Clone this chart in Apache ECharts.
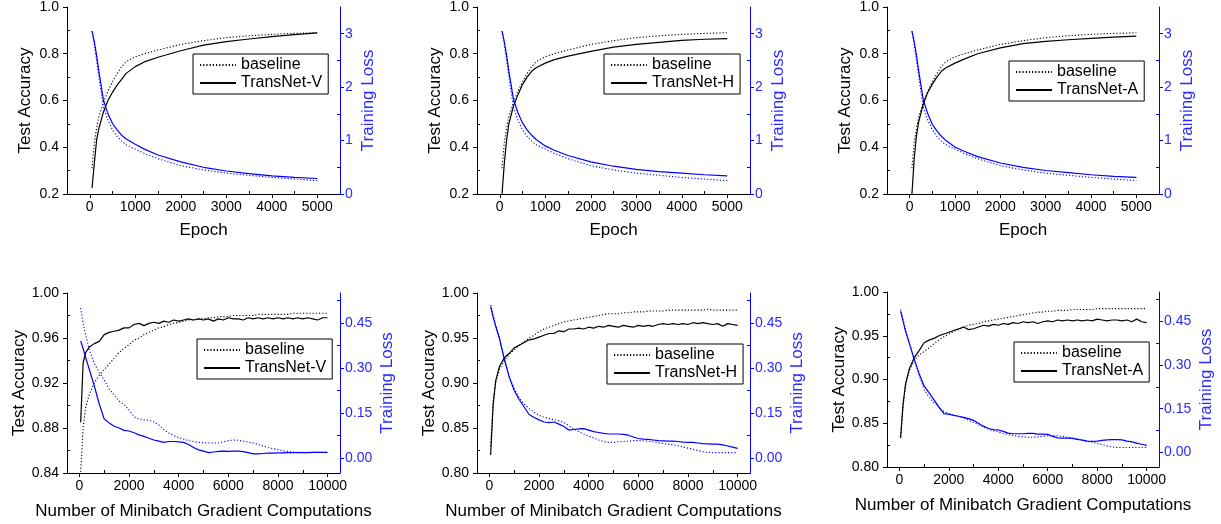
<!DOCTYPE html>
<html><head><meta charset="utf-8">
<script src="https://cdn.jsdelivr.net/npm/echarts@6/dist/echarts.min.js"></script>
<style>html,body{margin:0;padding:0;background:#fff}#c{width:1221px;height:524px}</style>
</head><body><div id="c"></div><script>
// ---------- data ----------
const epochX = [50,100,150,200,300,400,500,600,700,800,1000,1200,1500,2000,2500,3000,3500,4000,4500,5000];
const accBaseTop  = [0.31,0.42,0.48,0.53,0.59,0.64,0.68,0.715,0.745,0.766,0.787,0.80,0.816,0.84,0.856,0.869,0.877,0.883,0.887,0.89];
const lossBaseTop = [3.05,2.8,2.5,2.2,1.63,1.38,1.2,1.08,0.99,0.92,0.84,0.76,0.66,0.53,0.45,0.39,0.35,0.31,0.28,0.25];
const accVTop  = [0.225,0.33,0.43,0.48,0.55,0.60,0.635,0.666,0.69,0.716,0.745,0.765,0.785,0.813,0.837,0.852,0.863,0.873,0.882,0.889];
const lossVTop = [3.05,2.85,2.6,2.3,1.76,1.5,1.32,1.2,1.1,1.03,0.93,0.84,0.73,0.6,0.5,0.43,0.38,0.34,0.31,0.29];
const accHTop  = [0.2,0.33,0.43,0.5,0.575,0.625,0.668,0.7,0.725,0.74,0.76,0.775,0.79,0.81,0.828,0.84,0.849,0.857,0.862,0.865];
const lossHTop = [3.05,2.85,2.6,2.3,1.78,1.52,1.33,1.2,1.1,1.02,0.9,0.82,0.72,0.6,0.52,0.46,0.42,0.39,0.36,0.34];
const accATop  = [0.2,0.35,0.45,0.51,0.585,0.635,0.67,0.70,0.725,0.74,0.76,0.777,0.80,0.825,0.843,0.853,0.86,0.866,0.871,0.875];
const lossATop = [3.05,2.85,2.6,2.3,1.76,1.5,1.3,1.18,1.08,1.0,0.88,0.8,0.7,0.58,0.5,0.44,0.4,0.36,0.33,0.31];

const batchX = [50,150,250,400,600,800,1000,1200,1400,1600,1800,2000,2200,2400,2600,2800,3000,3200,3400,3600,3800,4000,4200,4400,4600,4800,5000,5200,5400,5600,5800,6000,6200,6400,6600,6800,7000,7200,7400,7600,7800,8000,8200,8400,8600,8800,9000,9200,9400,9600,9800,10000];
const accBaseV = [0.841,0.88,0.898,0.91,0.92,0.927,0.932,0.937,0.942,0.947,
 0.951,0.954,0.958,0.96,0.963,0.965,0.967,0.969,0.97,0.972,
 0.973,0.974,0.975,0.976,0.976,0.977,0.977,0.978,0.978,0.979,
 0.979,0.979,0.98,0.98,0.98,0.98,0.98,0.981,0.981,0.981,
 0.981,0.981,0.981,0.981,0.982,0.982,0.982,0.982,0.982,0.982,0.982,0.982];
const accV = [0.885,0.938,0.947,0.952,0.955,0.957,0.963,0.965,0.966,0.967,
 0.969,0.969,0.972,0.973,0.971,0.973,0.974,0.973,0.975,0.974,
 0.976,0.975,0.976,0.977,0.976,0.977,0.976,0.977,0.975,0.977,
 0.976,0.978,0.977,0.977,0.976,0.978,0.977,0.978,0.977,0.978,
 0.977,0.978,0.977,0.978,0.977,0.978,0.977,0.978,0.977,0.976,0.978,0.978];
const lossBaseV = [0.50,0.45,0.41,0.36,0.315,0.285,0.26,0.23,0.21,0.19,
 0.178,0.16,0.138,0.13,0.127,0.126,0.12,0.11,0.095,0.083,
 0.075,0.068,0.063,0.058,0.055,0.052,0.051,0.05,0.05,0.05,
 0.054,0.058,0.06,0.059,0.056,0.053,0.05,0.045,0.04,0.035,
 0.031,0.028,0.024,0.022,0.02,0.019,0.019,0.019,0.019,0.019,0.019,0.019];
const lossV = [0.39,0.365,0.335,0.295,0.24,0.18,0.13,0.117,0.106,0.1,
 0.092,0.09,0.084,0.077,0.072,0.066,0.06,0.056,0.052,0.055,
 0.055,0.054,0.052,0.045,0.035,0.027,0.023,0.018,0.02,0.022,
 0.023,0.022,0.023,0.023,0.021,0.018,0.014,0.014,0.015,0.016,
 0.016,0.017,0.017,0.018,0.018,0.018,0.018,0.018,0.019,0.019,0.019,0.019];
const accBaseH = [0.83,0.88,0.9,0.915,0.925,0.932,0.937,0.942,0.946,0.95,
 0.953,0.957,0.96,0.962,0.964,0.966,0.968,0.969,0.97,0.971,
 0.972,0.973,0.974,0.975,0.976,0.977,0.977,0.977,0.978,0.978,
 0.979,0.979,0.979,0.98,0.98,0.98,0.98,0.981,0.981,0.981,
 0.981,0.981,0.981,0.981,0.981,0.982,0.981,0.981,0.981,0.981,0.981,0.981];
const accH = [0.82,0.875,0.902,0.918,0.928,0.933,0.939,0.942,0.945,0.948,
 0.949,0.951,0.953,0.955,0.955,0.958,0.957,0.96,0.96,0.961,
 0.96,0.962,0.961,0.963,0.962,0.964,0.963,0.962,0.964,0.963,
 0.962,0.964,0.963,0.964,0.963,0.965,0.966,0.965,0.966,0.965,
 0.966,0.965,0.967,0.966,0.967,0.966,0.965,0.966,0.963,0.966,0.965,0.964];
const lossBaseH = [0.51,0.475,0.445,0.40,0.33,0.27,0.232,0.2,0.18,0.165,
 0.152,0.142,0.136,0.132,0.127,0.124,0.118,0.108,0.097,0.088,
 0.08,0.073,0.067,0.06,0.055,0.052,0.052,0.054,0.055,0.056,
 0.058,0.058,0.057,0.056,0.054,0.051,0.048,0.046,0.044,0.041,
 0.037,0.033,0.029,0.025,0.021,0.019,0.018,0.018,0.018,0.018,0.018,0.018];
const lossH = [0.505,0.47,0.44,0.40,0.33,0.27,0.225,0.195,0.17,0.145,
 0.135,0.127,0.12,0.118,0.12,0.113,0.105,0.093,0.095,0.097,
 0.098,0.093,0.088,0.085,0.082,0.08,0.08,0.08,0.079,0.076,
 0.07,0.065,0.063,0.062,0.06,0.058,0.057,0.056,0.056,0.055,
 0.053,0.052,0.052,0.05,0.048,0.047,0.046,0.046,0.044,0.04,0.036,0.032];
const accBaseA = [0.835,0.87,0.892,0.91,0.922,0.928,0.932,0.936,0.941,0.945,
 0.949,0.952,0.955,0.957,0.96,0.962,0.963,0.964,0.966,0.967,
 0.968,0.969,0.97,0.971,0.972,0.973,0.974,0.975,0.976,0.977,
 0.977,0.978,0.978,0.979,0.979,0.979,0.98,0.98,0.98,0.98,
 0.98,0.981,0.981,0.981,0.981,0.981,0.981,0.981,0.981,0.981,0.981,0.981];
const accA = [0.833,0.872,0.895,0.912,0.925,0.933,0.942,0.945,0.947,0.95,
 0.952,0.954,0.956,0.958,0.96,0.957,0.958,0.96,0.962,0.961,
 0.963,0.962,0.964,0.963,0.965,0.964,0.966,0.965,0.966,0.964,
 0.966,0.967,0.966,0.968,0.967,0.968,0.967,0.968,0.967,0.968,
 0.967,0.969,0.968,0.967,0.968,0.968,0.967,0.968,0.966,0.969,0.966,0.965];
const lossBaseA = [0.49,0.455,0.42,0.375,0.318,0.265,0.215,0.19,0.17,0.155,
 0.14,0.133,0.128,0.123,0.118,0.11,0.103,0.095,0.087,0.08,
 0.074,0.07,0.065,0.061,0.058,0.055,0.053,0.052,0.052,0.053,
 0.055,0.057,0.058,0.057,0.055,0.052,0.049,0.046,0.042,0.038,
 0.035,0.031,0.027,0.022,0.019,0.017,0.017,0.017,0.017,0.017,0.017,0.017];
const lossA = [0.484,0.45,0.415,0.375,0.32,0.27,0.228,0.205,0.18,0.155,
 0.133,0.131,0.127,0.124,0.12,0.116,0.11,0.1,0.09,0.082,
 0.078,0.077,0.072,0.066,0.064,0.064,0.064,0.065,0.065,0.063,
 0.063,0.062,0.055,0.05,0.049,0.049,0.048,0.045,0.042,0.039,
 0.038,0.039,0.041,0.043,0.044,0.044,0.043,0.039,0.036,0.032,0.028,0.024];

// tick labels
const epochTicks = [0,1000,2000,3000,4000,5000];
const epochMinor = [500,1500,2500,3500,4500];
const batchTicks = [0,2000,4000,6000,8000,10000];
const batchMinor = [1000,3000,5000,7000,9000];
const accTopTicks = [0.2,0.4,0.6,0.8,1.0];
const accTopMinor = [0.3,0.5,0.7,0.9];
const accBotTicksV = [0.84,0.88,0.92,0.96,1.00];
const accBotMinorV = [0.86,0.90,0.94,0.98];
const accBotTicks = [0.80,0.85,0.90,0.95,1.00];
const accBotMinor = [0.825,0.875,0.925,0.975];
const lossTopTicks = [0,1,2,3];
const lossTopMinor = [0.5,1.5,2.5];
const lossBotTicks = [0,0.15,0.30,0.45];
const lossBotMinor = [0.075,0.225,0.375,0.525];
const methodNames = ['TransNet-V','TransNet-H','TransNet-A'];

// ---------- chart ----------
const FONT = '"Liberation Sans", Arial, sans-serif';
const BLUE = '#0000ff';
const BLUE_TXT = '#2a2aff';
const pairs = (xs, ys) => xs.map((x, i) => [x, ys[i]]);

const topCfg = {xr:[-500,5500], xl:epochTicks, xm:epochMinor, xName:'Epoch', xGap:28,
  y:[0.2,1.0], yl:accTopTicks, ym:accTopMinor, yd:1, r:[0,3.5], rl:lossTopTicks, rm:lossTopMinor, rd:0, rGap:20, x:epochX};
const botCfg = {xr:[-500,10500], xl:batchTicks, xm:batchMinor, xName:'Number of Minibatch Gradient Computations', xGap:30,
  r:[-0.05,0.55], rl:lossBotTicks, rm:lossBotMinor, rd:2, rGap:39, x:batchX};

const panels = [
  Object.assign({}, topCfg, {grid:{left:67,top:7,width:273,height:187}, name:methodNames[0], accB:accBaseTop, accT:accVTop, lossB:lossBaseTop, lossT:lossVTop, leg:{left:193,top:54}}),
  Object.assign({}, topCfg, {grid:{left:477,top:7,width:273,height:187}, name:methodNames[1], accB:accBaseTop, accT:accHTop, lossB:lossBaseTop, lossT:lossHTop, leg:{left:604,top:54}}),
  Object.assign({}, topCfg, {grid:{left:887,top:7,width:272,height:187}, name:methodNames[2], accB:accBaseTop, accT:accATop, lossB:lossBaseTop, lossT:lossATop, leg:{left:1009,top:61}}),
  Object.assign({}, botCfg, {grid:{left:67,top:293,width:273,height:180}, y:[0.84,1.0], yl:accBotTicksV, ym:accBotMinorV, yd:2, name:methodNames[0], accB:accBaseV, accT:accV, lossB:lossBaseV, lossT:lossV, leg:{left:197,top:339}}),
  Object.assign({}, botCfg, {grid:{left:477,top:293,width:273,height:180}, y:[0.80,1.0], yl:accBotTicks, ym:accBotMinor, yd:2, name:methodNames[1], accB:accBaseH, accT:accH, lossB:lossBaseH, lossT:lossH, leg:{left:607,top:344}}),
  Object.assign({}, botCfg, {grid:{left:887,top:292,width:272,height:175}, y:[0.80,1.0], yl:accBotTicks, ym:accBotMinor, yd:2, name:methodNames[2], accB:accBaseA, accT:accA, lossB:lossBaseA, lossT:lossA, leg:{left:1014,top:342}})
];

const option = {animation:false, backgroundColor:'#fff', textStyle:{fontFamily:FONT},
  grid:[], xAxis:[], yAxis:[], legend:[], series:[]};

const hidden = {axisLabel:{show:false}, splitLine:{show:false}, axisLine:{show:false, onZero:false}};

panels.forEach((p, i) => {
  option.grid.push(Object.assign({containLabel:false}, p.grid));
  const xi = option.xAxis.length;
  option.xAxis.push({type:'value', gridIndex:i, min:p.xr[0], max:p.xr[1], position:'bottom',
    name:p.xName, nameLocation:'middle', nameGap:p.xGap,
    nameTextStyle:{fontSize:17, color:'#000', fontFamily:FONT},
    axisLine:{show:true, onZero:false, lineStyle:{color:'#000', width:1}},
    axisTick:{show:true, inside:false, length:4, customValues:p.xl, lineStyle:{color:'#000'}},
    axisLabel:{show:true, customValues:p.xl, fontSize:14, color:'#000', margin:6, fontFamily:FONT,
      formatter:(v) => String(Math.round(v))},
    splitLine:{show:false}});
  option.xAxis.push(Object.assign({type:'value', gridIndex:i, min:p.xr[0], max:p.xr[1], position:'bottom',
    axisTick:{show:true, inside:true, length:3, customValues:p.xm, lineStyle:{color:'#000'}}}, hidden));

  const yi = option.yAxis.length;
  option.yAxis.push({type:'value', gridIndex:i, min:p.y[0], max:p.y[1], position:'left',
    name:'Test Accuracy', nameLocation:'middle', nameGap:33,
    nameTextStyle:{fontSize:17, color:'#000', fontFamily:FONT},
    axisLine:{show:true, onZero:false, lineStyle:{color:'#000', width:1}},
    axisTick:{show:true, inside:false, length:4, customValues:p.yl, lineStyle:{color:'#000'}},
    axisLabel:{show:true, customValues:p.yl, fontSize:14, color:'#000', margin:8, fontFamily:FONT,
      formatter:(v) => Number(v).toFixed(p.yd)},
    splitLine:{show:false}});
  option.yAxis.push(Object.assign({type:'value', gridIndex:i, min:p.y[0], max:p.y[1], position:'left',
    axisTick:{show:true, inside:true, length:3, customValues:p.ym, lineStyle:{color:'#000'}}}, hidden));
  const ri = option.yAxis.length;
  option.yAxis.push({type:'value', gridIndex:i, min:p.r[0], max:p.r[1], position:'right',
    name:'Training Loss', nameLocation:'middle', nameGap:p.rGap,
    nameTextStyle:{fontSize:17, color:BLUE_TXT, fontFamily:FONT},
    axisLine:{show:true, onZero:false, lineStyle:{color:BLUE, width:1}},
    axisTick:{show:true, inside:false, length:4, customValues:p.rl, lineStyle:{color:BLUE}},
    axisLabel:{show:true, customValues:p.rl, fontSize:14, color:BLUE_TXT, margin:5, fontFamily:FONT,
      formatter:(v) => Number(v).toFixed(p.rd)},
    splitLine:{show:false}});
  option.yAxis.push(Object.assign({type:'value', gridIndex:i, min:p.r[0], max:p.r[1], position:'right',
    axisTick:{show:true, inside:true, length:3, customValues:p.rm, lineStyle:{color:BLUE}}}, hidden));

  const mk = (name, ys, yIdx, color, dotted) => ({
    type:'line', name:name, xAxisIndex:xi, yAxisIndex:yIdx, data:pairs(p.x, ys),
    showSymbol:false, symbol:'none', smooth:false, clip:true, z:dotted ? 2 : 3,
    lineStyle:{color:color, width: dotted ? 1.1 : 1.2, type: dotted ? [1.2, 2] : 'solid'},
    itemStyle:{color:color}, emphasis:{disabled:true}
  });
  option.series.push(mk('baseline', p.accB, yi, '#000', true));
  option.series.push(mk(p.name, p.accT, yi, '#000', false));
  option.series.push(mk('baseline loss ' + i, p.lossB, ri, BLUE, true));
  option.series.push(mk(p.name + ' loss', p.lossT, ri, BLUE, false));

  option.legend.push({left:p.leg.left, top:p.leg.top, orient:'vertical', data:['baseline', p.name],
    itemWidth:36, itemHeight:12, itemGap:2, padding:[3,6,3,6], borderColor:'#000', borderWidth:1,
    backgroundColor:'#fff', borderRadius:0, selectedMode:false,
    itemStyle:{opacity:0, borderWidth:0},
    textStyle:{fontSize:16, color:'#000', fontFamily:FONT}});
});

const chart = echarts.init(document.getElementById('c'), null, {renderer:'canvas'});
chart.setOption(option);
</script></body></html>
